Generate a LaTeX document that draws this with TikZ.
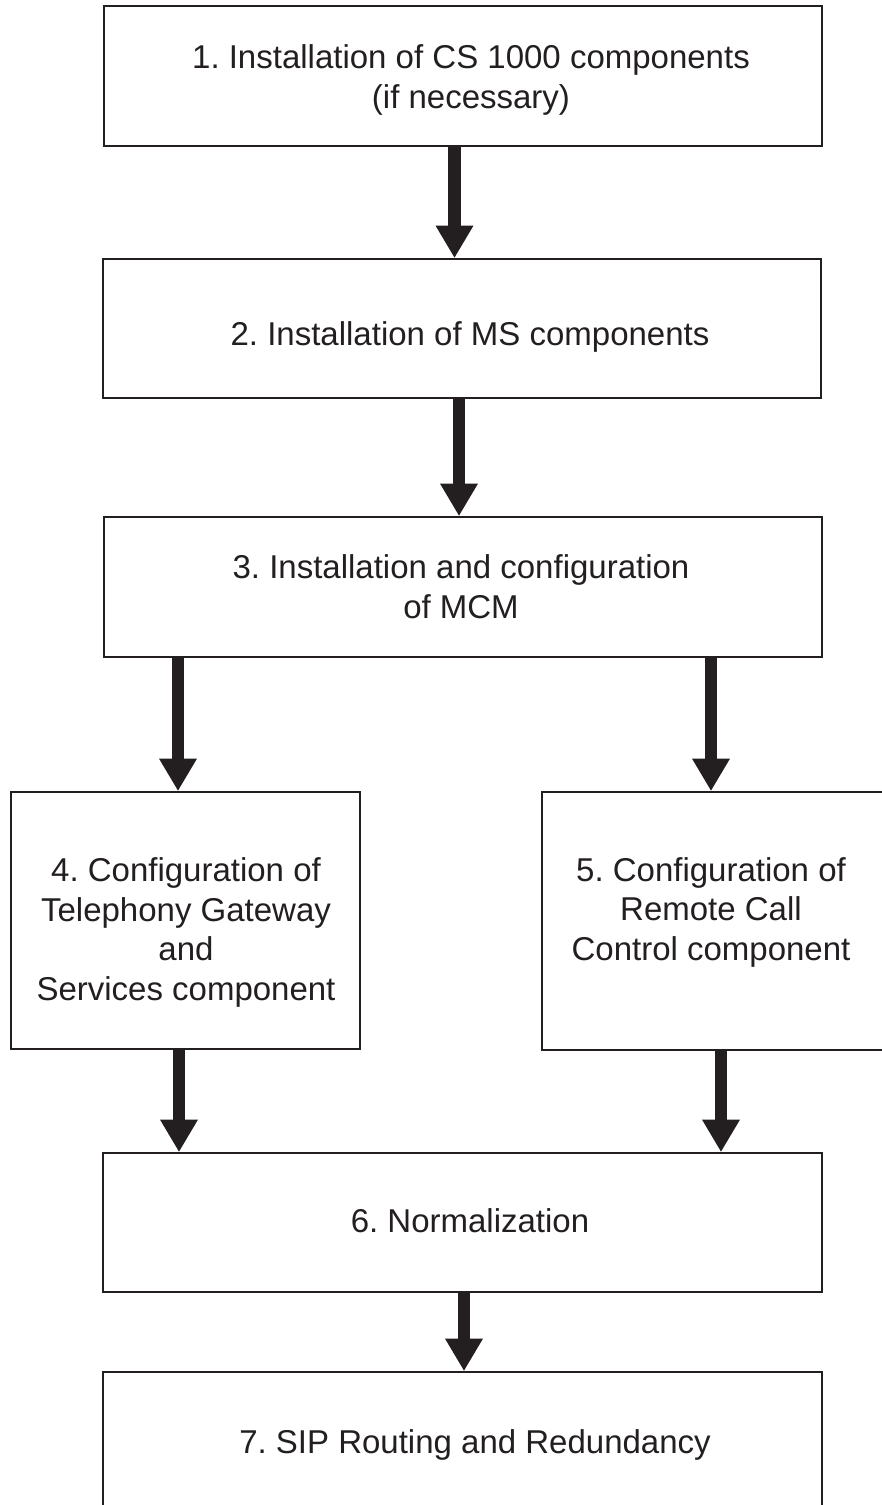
\documentclass[tikz,border=0pt]{standalone}
\usepackage{fontspec}
\setmainfont{Liberation Sans}
\usetikzlibrary{arrows.meta}
\definecolor{ink}{HTML}{231F20}
\frenchspacing
\begin{document}
\begin{tikzpicture}[x=1pt,y=-1pt,
  stepbox/.style={draw=ink, line width=2.8pt, fill=white, inner sep=0pt},
  steptext/.style={text=ink, font=\fontsize{33}{39.5}\selectfont, align=center,
    inner sep=0pt, anchor=base},
  flow/.style={draw=ink, line width=12.5pt,
    -{Triangle[width=38pt,length=32pt,line width=0pt]}}
]
\useasboundingbox (0,0) rectangle (882,1505);
\clip (0,0) rectangle (882,1505);

% process steps
\node[stepbox, minimum width=718pt, minimum height=140pt] (b1) at (463,76) {};
\node[stepbox, minimum width=718pt, minimum height=139pt] (b2) at (462,328.5) {};
\node[stepbox, minimum width=718pt, minimum height=140pt] (b3) at (463,587) {};
\node[stepbox, minimum width=349pt, minimum height=257pt] (b4) at (185.5,920.5) {};
\node[stepbox, minimum width=349pt, minimum height=258pt] (b5) at (716.5,921) {};
\node[stepbox, minimum width=719pt, minimum height=139pt] (b6) at (462.5,1222.5) {};
\node[stepbox, minimum width=719pt, minimum height=140pt] (b7) at (462.5,1442) {};

% step captions (base anchor sits on the last line's baseline)
\node[steptext] (t1) at (471,108) {1. Installation of CS 1000 components\\(if necessary)};
\node[steptext] (t2) at (470,345) {2. Installation of MS components};
\node[steptext] (t3) at (461,618) {3. Installation and configuration\\of MCM};
\node[steptext] (t4) at (186,1000) {4. Configuration of\\Telephony Gateway\\and\\Services component};
\node[steptext] (t5) at (711,960) {5. Configuration of\\Remote Call\\Control component};
\node[steptext] (t6) at (470,1232) {6. Normalization};
\node[steptext] (t7) at (475,1453) {7. SIP Routing and Redundancy};

% flow arrows
\draw[flow] ([xshift=-8.5pt]b1.south) -- ([xshift=-7.5pt]b2.north);
\draw[flow] ([xshift=-3pt]b2.south) -- ([xshift=-4pt]b3.north);
\draw[flow] ([xshift=-285pt]b3.south) -- ([xshift=-7.5pt]b4.north);
\draw[flow] ([xshift=248pt]b3.south) -- ([xshift=-5.5pt]b5.north);
\draw[flow] ([xshift=-6.5pt]b4.south) -- ([xshift=-283.5pt]b6.north);
\draw[flow] ([xshift=4.5pt]b5.south) -- ([xshift=258.5pt]b6.north);
\draw[flow] ([xshift=1.5pt]b6.south) -- ([xshift=1.5pt]b7.north);
\end{tikzpicture}
\end{document}
